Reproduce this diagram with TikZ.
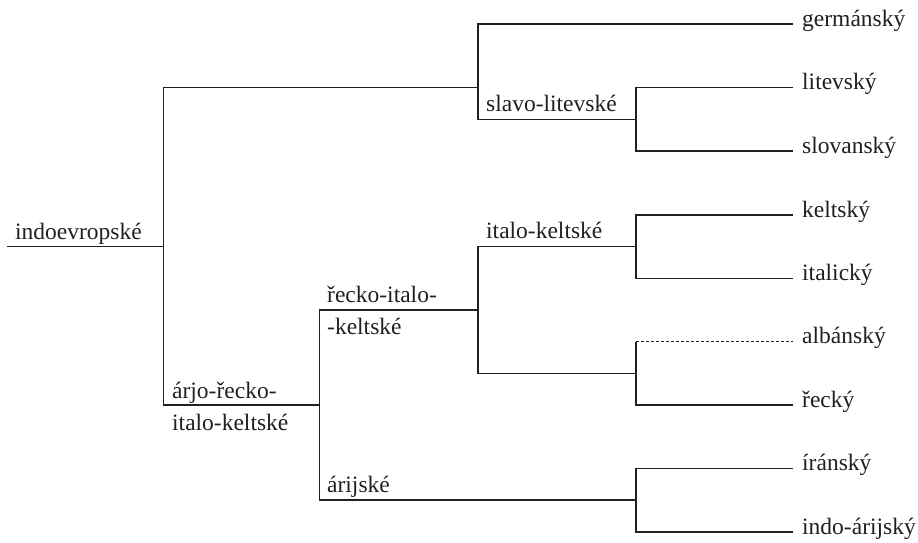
\documentclass[tikz,border=0pt]{standalone}
\usepackage{fontspec}
\setmainfont{Liberation Serif}
\newcommand{\labf}{\fontspec{Liberation Serif}\fontsize{23.5}{28}\selectfont}
\definecolor{ink}{HTML}{231F20}
\begin{document}
\begin{tikzpicture}[x=1pt,y=-1pt,
  branch/.style={draw=ink,line width=1.4pt},
  dashbranch/.style={draw=ink,line width=1.1pt,dash pattern=on 3pt off 2pt},
  leaf/.style={anchor=mid west,inner xsep=9pt,inner ysep=0pt,text=ink,font=\labf},
  lab/.style={anchor=base west,inner sep=0pt,text=ink,font=\labf}]
\useasboundingbox (0,0) rectangle (918,542);
% junctions
\coordinate (R) at (7,246.5);
\coordinate (A) at (163.5,246.5);
\coordinate (B) at (478,87.5);
\coordinate (C) at (636,119.5);
\coordinate (D) at (319.5,405);
\coordinate (E) at (478,310);
\coordinate (F) at (636,246.5);
\coordinate (H) at (636,373.5);
\coordinate (I) at (636,500);
% leaves
\node[leaf] (germ) at (793,24) {germánský};
\node[leaf] (lit) at (793,87.5) {litevský};
\node[leaf] (slo) at (793,151) {slovanský};
\node[leaf] (kel) at (793,215) {keltský};
\node[leaf] (ita) at (793,278.5) {italický};
\node[leaf] (alb) at (793,341.5) {albánský};
\node[leaf] (rec) at (793,405) {řecký};
\node[leaf] (ira) at (793,468.5) {íránský};
\node[leaf] (ind) at (793,532) {indo-árijský};
% branch labels
\node[lab] (lroot) at (15,239) {indoevropské};
\node[lab] (lslav) at (486,111.5) {slavo-litevské};
\node[lab] (litk) at (486,238.5) {italo-keltské};
\node[lab] (larj1) at (172,398) {árjo-řecko-};
\node[lab] (larj2) at (172,430) {italo-keltské};
\node[lab] (lrec1) at (327,302.5) {řecko-italo-};
\node[lab] (lrec2) at (327,334) {-keltské};
\node[lab] (lari) at (327,492) {árijské};
% connectors
\draw[branch] (R) -- (A);
\draw[branch] (A) |- (B);
\draw[branch] (A) |- (D);
\draw[branch] (B) |- (germ.mid west);
\draw[branch] (B) |- (C);
\draw[branch] (C) |- (lit.mid west);
\draw[branch] (C) |- (slo.mid west);
\draw[branch] (D) |- (E);
\draw[branch] (D) |- (I);
\draw[branch] (E) |- (F);
\draw[branch] (E) |- (H);
\draw[branch] (F) |- (kel.mid west);
\draw[branch] (F) |- (ita.mid west);
\draw[branch] (H) -- (H|-alb.mid west);
\draw[dashbranch] (H|-alb.mid west) -- (alb.mid west);
\draw[branch] (H) |- (rec.mid west);
\draw[branch] (I) |- (ira.mid west);
\draw[branch] (I) |- (ind.mid west);
\end{tikzpicture}
\end{document}
